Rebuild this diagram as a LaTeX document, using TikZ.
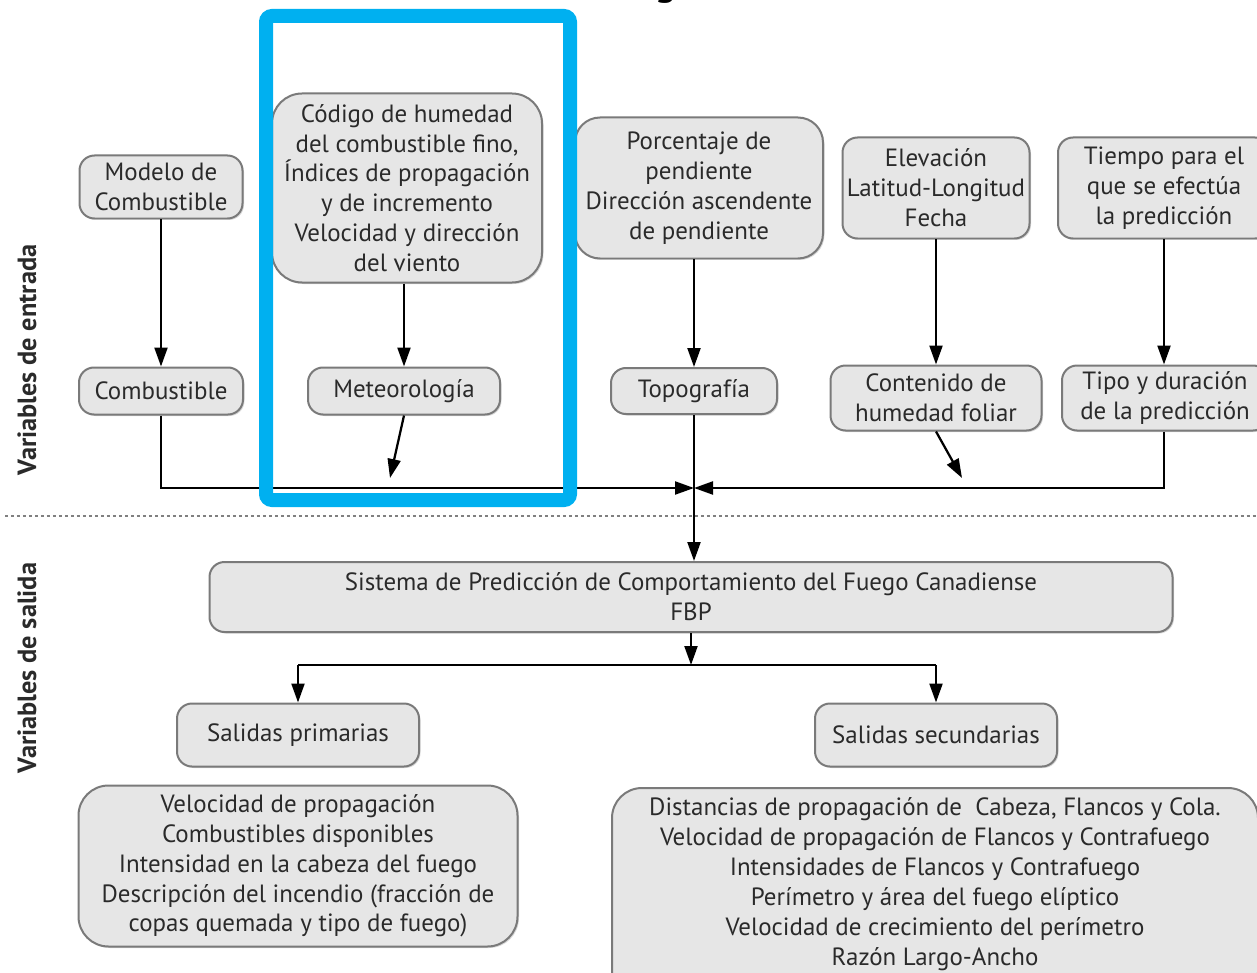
\documentclass[tikz,border=0pt]{standalone}
\usepackage{fontspec}
\setmainfont{PT Sans}
\usetikzlibrary{arrows.meta,shadows}
\definecolor{boxfill}{HTML}{E6E6E6}
\definecolor{boxline}{HTML}{7A7A7A}
\definecolor{ink}{HTML}{2A2A2A}
\definecolor{hilite}{HTML}{00B0F0}
\begin{document}
\begin{tikzpicture}[x=0.02cm,y=-0.02cm,
  box/.style={draw=boxline, line width=0.04cm, fill=boxfill, rounded corners=0.3cm,
    align=center, inner sep=0pt, text=ink, font=\fontsize{14.2}{17}\selectfont,
    drop shadow={shadow xshift=0.03cm, shadow yshift=-0.03cm, opacity=0.3, fill=gray}},
  sz/.style 2 args={minimum width=#1*0.02cm, minimum height=#2*0.02cm},
  link/.style={draw=black, line width=0.045cm, -{Triangle[length=0.38cm,width=0.26cm]}},
  wire/.style={draw=black, line width=0.045cm},
  sidelabel/.style={rotate=90, font=\fontsize{15}{18}\selectfont\bfseries, text=ink},
]
\useasboundingbox (0,0) rectangle (1257,973);

% descender of the heading above the frame
\node[anchor=base, font=\fontsize{24}{28}\selectfont, text=black] (heading) at (666,-5) {g};

% input variables
\node[box, sz={163}{63}] (modelo) at (161,187) {Modelo de\\Combustible};
\node[box, sz={270}{189}, rounded corners=0.6cm] (codigo) at (407,188)
  {Código de humedad\\del combustible fino,\\Índices de propagación\\y de incremento\\Velocidad y dirección\\del viento};
\node[box, sz={248}{141}, rounded corners=0.5cm] (pend) at (699,188)
  {Porcentaje de\\pendiente\\Dirección ascendente\\de pendiente};
\node[box, sz={187}{101}] (elev) at (936,188) {Elevación\\Latitud-Longitud\\Fecha};
\node[box, sz={212}{101}] (tiempo) at (1164,188) {Tiempo para el\\que se efectúa\\la predicción};

\node[box, sz={164}{47}] (comb) at (161,391) {Combustible};
\node[box, sz={192}{47}] (meteo) at (404,391) {Meteorología};
\node[box, sz={166}{46}] (topo) at (694,391) {Topografía};
\node[box, sz={211}{65}] (foliar) at (936,398) {Contenido de\\humedad foliar};
\node[box, sz={206}{65}] (tipo) at (1165,398) {Tipo y duración\\de la predicción};

% outputs
\node[box, sz={963}{70}] (fbp) at (691,597)
  {Sistema de Predicción de Comportamiento del Fuego Canadiense\\FBP};
\node[box, sz={242}{63}] (prim) at (298,735) {Salidas primarias};
\node[box, sz={242}{63}] (sec) at (936,735) {Salidas secundarias};
\node[box, sz={439}{161}, rounded corners=0.6cm] (lista1) at (298,866)
  {Velocidad de propagación\\Combustibles disponibles\\Intensidad en la cabeza del fuego\\Descripción del incendio (fracción de\\copas quemada y tipo de fuego)};
\node[box, sz={646}{214}, rounded corners=0.6cm] (lista2) at (935,895) {};
\node[align=center, inner sep=0pt, text=ink, font=\fontsize{14.2}{17}\selectfont] (lista2text) at (935,884)
  {Distancias de propagación de~ Cabeza, Flancos y Cola.\\Velocidad de propagación de Flancos y Contrafuego\\Intensidades de Flancos y Contrafuego\\Perímetro y área del fuego elíptico\\Velocidad de crecimiento del perímetro\\Razón Largo-Ancho};

% side labels
\node[sidelabel] (entrada) at (27,360) {Variables de entrada};
\node[sidelabel] (salida) at (27,668) {Variables de salida};

% separator between inputs and outputs
\coordinate (sepL) at (5,516);
\coordinate (sepR) at (1257,516);
\draw[gray, line width=0.03cm, dash pattern=on 0.06cm off 0.06cm] (sepL) -- (sepR);

% connectors of the input stage
\coordinate (hub) at (694,488);
\coordinate (meteoEnd) at (390,478);
\coordinate (foliarEnd) at (962,478);
\draw[link] (modelo) -- (comb);
\draw[link] (meteo.north |- codigo.south) -- (meteo.north);
\draw[link] (topo.north |- pend.south) -- (topo.north);
\draw[link] (elev) -- (foliar);
\draw[link] (tiempo.south) -- (tiempo.south |- tipo.north);
\draw[link] (comb.south) |- (hub);
\draw[link] (tiempo.south |- tipo.south) |- (hub);
\draw[link] (meteo.south) -- (meteoEnd);
\draw[link] (foliar.south) -- (foliarEnd);
\draw[link] (topo.south) -- (topo.south |- fbp.north);

% connectors of the output stage
\coordinate (split) at (691,665);
\draw[link] (fbp.south) -- (split);
\draw[wire] (prim.north |- split) -- (sec.north |- split);
\draw[link] (prim.north |- split) -- (prim.north);
\draw[link] (sec.north |- split) -- (sec.north);

% highlight frame
\node[draw=hilite, line width=0.28cm, rounded corners=0.12cm, sz={304}{484}] (focus) at (418,258) {};
\end{tikzpicture}
\end{document}
